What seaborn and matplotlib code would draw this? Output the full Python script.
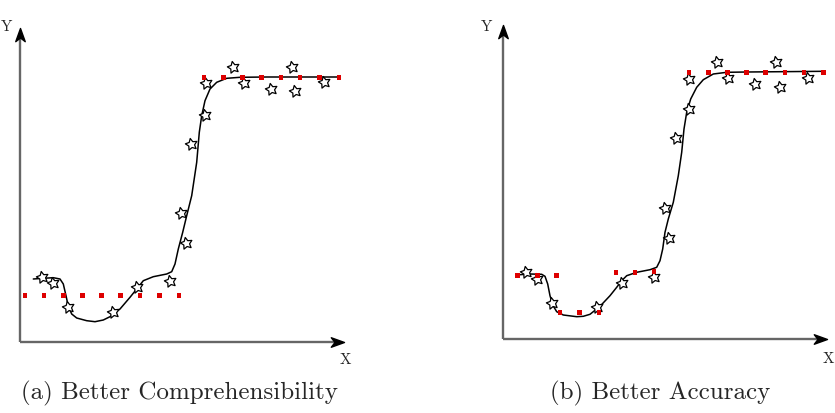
import numpy as np
import pandas as pd
import matplotlib
matplotlib.use("Agg")
import matplotlib.pyplot as plt
from matplotlib.path import Path
from matplotlib.markers import MarkerStyle
import seaborn as sns

# ---------------- data (schematic units) ----------------
# Panel (a): Better Comprehensibility
a_star_x = [21.7, 32.7, 47.7, 93.3, 116.7, 150, 165.7, 160.7, 171, 185, 185.7, 212.7, 224.3, 250.7, 271.7, 274.7, 304]
a_star_y = [65.3, 59, 34.7, 29.7, 55.3, 60.7, 99, 129, 198, 227.3, 258.7, 274.7, 258.7, 253, 274.7, 250.7, 260.3]
a_curve_x = [13.3, 23.3, 33.3, 40, 43.3, 46, 48.3, 51.7, 56.7, 66.7, 75, 83.3, 90, 100, 110, 116.7, 123.3,
             133.3, 146.7, 151.7, 155, 158.3, 162.7, 166.7, 171.7, 176.7, 179.3, 181.7, 185, 190, 196.7,
             206.7, 220, 246.7, 280, 320]
a_curve_y = [63, 63.7, 64.3, 63, 58, 46.3, 35.7, 28, 24, 21.3, 20.3, 22, 25.3, 33, 44.7, 53, 61.3,
             65.3, 68, 70.3, 78, 93, 109.7, 126.3, 146.3, 179.7, 209.7, 226.3, 241.3, 253, 259.7,
             263.7, 264.7, 265, 265, 265]
a_red_x = [5, 24, 43.3, 62.7, 81.7, 100.7, 120, 139.3, 159, 184, 203.3, 222.7, 241.7, 261, 280, 299.3, 319]
a_red_y = [46.3] * 9 + [264.7] * 8

# Panel (b): Better Accuracy
b_star_x = [23, 34.3, 48.7, 94.3, 118.7, 151, 166.3, 162, 173, 186, 186, 214.3, 225.3, 252, 273, 277, 305.3]
b_star_y = [66.7, 60, 36, 31.7, 55.7, 62.3, 101, 130.7, 201, 230, 260, 276.7, 260.7, 255, 277.3, 252.3, 261]
b_curve_x = [17, 27, 38.7, 42, 44.7, 47, 49.7, 53.7, 60.3, 73.7, 80.3, 87, 97, 107, 113.7, 118.7, 123.7,
             133.7, 147, 153.7, 157, 159.7, 162, 165.3, 170.3, 175.3, 178.7, 181, 183.7, 187.7, 193.7,
             200.3, 210.3, 223.7, 243.7, 277, 320.3]
b_curve_y = [64.3, 65, 64.7, 62.7, 55, 43.3, 34, 27.3, 24, 22.3, 22.7, 24.7, 32.7, 43.3, 51.7, 58.3, 63.3,
             66.7, 69.3, 71.7, 78.3, 90, 106.7, 120, 136.7, 163.3, 186.7, 210, 226.7, 240, 251.7,
             259.3, 265, 266.7, 267, 267.3, 267.7]
b_red_x = [14.3, 34.3, 53.7, 57, 76.3, 96, 113, 132, 151, 186, 205.3, 224.3, 243.7, 262.7, 282, 301, 320.3]
b_red_y = [63.3, 63.3, 63.3, 26.7, 26.7, 26.7, 66.7, 66.7, 67.3] + [266.7] * 8

captions = ["(a) Better Comprehensibility", "(b) Better Accuracy"]
x_label = "X"
y_label = "Y"

# ---------------- style ----------------
sns.set_style("white")
plt.rcParams["font.family"] = ["cmr10", "DejaVu Serif"]
plt.rcParams["axes.unicode_minus"] = False

# open five-point star marker
ang = np.deg2rad(90 + 12) + np.arange(10) * np.pi / 5
rad = np.where(np.arange(10) % 2 == 0, 1.0, 0.5)
sv = np.column_stack([rad * np.cos(ang), rad * np.sin(ang)])
sv = np.vstack([sv, sv[:1]])
star_path = Path(sv, [Path.MOVETO] + [Path.LINETO] * 9 + [Path.CLOSEPOLY])
star = MarkerStyle(star_path)

# arrow heads (tip at origin)
head_r = Path([(0, 0), (-1, 0.36), (-0.72, 0), (-1, -0.36), (0, 0)],
              [Path.MOVETO, Path.LINETO, Path.LINETO, Path.LINETO, Path.CLOSEPOLY])
head_u = Path([(0, 0), (0.36, -1), (0, -0.72), (-0.36, -1), (0, 0)],
              [Path.MOVETO, Path.LINETO, Path.LINETO, Path.LINETO, Path.CLOSEPOLY])

W, H = 835, 414
fig = plt.figure(figsize=(W / 100, H / 100), dpi=100)
ax1 = fig.add_axes([20 / W, (H - 343) / H, 324 / W, 314 / H])
ax2 = fig.add_axes([503 / W, (H - 340) / H, 324 / W, 314 / H])

panels = [
    (ax1, a_curve_x, a_curve_y, a_star_x, a_star_y, a_red_x, a_red_y),
    (ax2, b_curve_x, b_curve_y, b_star_x, b_star_y, b_red_x, b_red_y),
]

for ax, cx, cy, sx, sy, rx, ry in panels:
    curve = pd.DataFrame({"x": cx, "y": cy})
    stars = pd.DataFrame({"x": sx, "y": sy})
    red = pd.DataFrame({"x": rx, "y": ry})
    sns.lineplot(data=curve, x="x", y="y", sort=False, estimator=None, color="black",
                 lw=1.1, ax=ax, zorder=2)
    sns.scatterplot(data=stars, x="x", y="y", marker=star, s=78, color="white",
                    edgecolor="black", linewidth=0.9, ax=ax, zorder=3)
    sns.scatterplot(data=red, x="x", y="y", marker="s", s=11, color="#dd0000",
                    edgecolor="none", linewidth=0, ax=ax, zorder=4)
    ax.set_xlim(0, 324)
    ax.set_ylim(0, 314)
    ax.set_xlabel("")
    ax.set_ylabel("")
    ax.set_xticks([])
    ax.set_yticks([])
    for sp in ax.spines.values():
        sp.set_visible(False)
    # axis arrows
    ax.plot([0, 0.975], [0, 0], color="#666666", lw=1.7, transform=ax.transAxes,
            clip_on=False, zorder=1, solid_capstyle="butt")
    ax.plot([0, 0], [0, 0.97], color="#666666", lw=1.7, transform=ax.transAxes,
            clip_on=False, zorder=1, solid_capstyle="butt")
    ax.plot([1], [0], marker=MarkerStyle(head_r), markersize=19, color="black",
            transform=ax.transAxes, clip_on=False, zorder=5, lw=0)
    ax.plot([0], [1], marker=MarkerStyle(head_u), markersize=19, color="black",
            transform=ax.transAxes, clip_on=False, zorder=5, lw=0)

# axis letters
fig.text(345 / W, 1 - 360 / H, x_label, ha="center", va="center", fontsize=11)
fig.text(828 / W, 1 - 359 / H, x_label, ha="center", va="center", fontsize=11)
fig.text(1 / W, 1 - 27 / H, y_label, ha="left", va="center", fontsize=11)
fig.text(486.5 / W, 1 - 27 / H, y_label, ha="center", va="center", fontsize=11)

# captions
fig.text(179 / W, 1 - 393 / H, captions[0], ha="center", va="center", fontsize=18)
fig.text(660 / W, 1 - 393 / H, captions[1], ha="center", va="center", fontsize=18)

fig.savefig("out.png", dpi=100, facecolor="white")
